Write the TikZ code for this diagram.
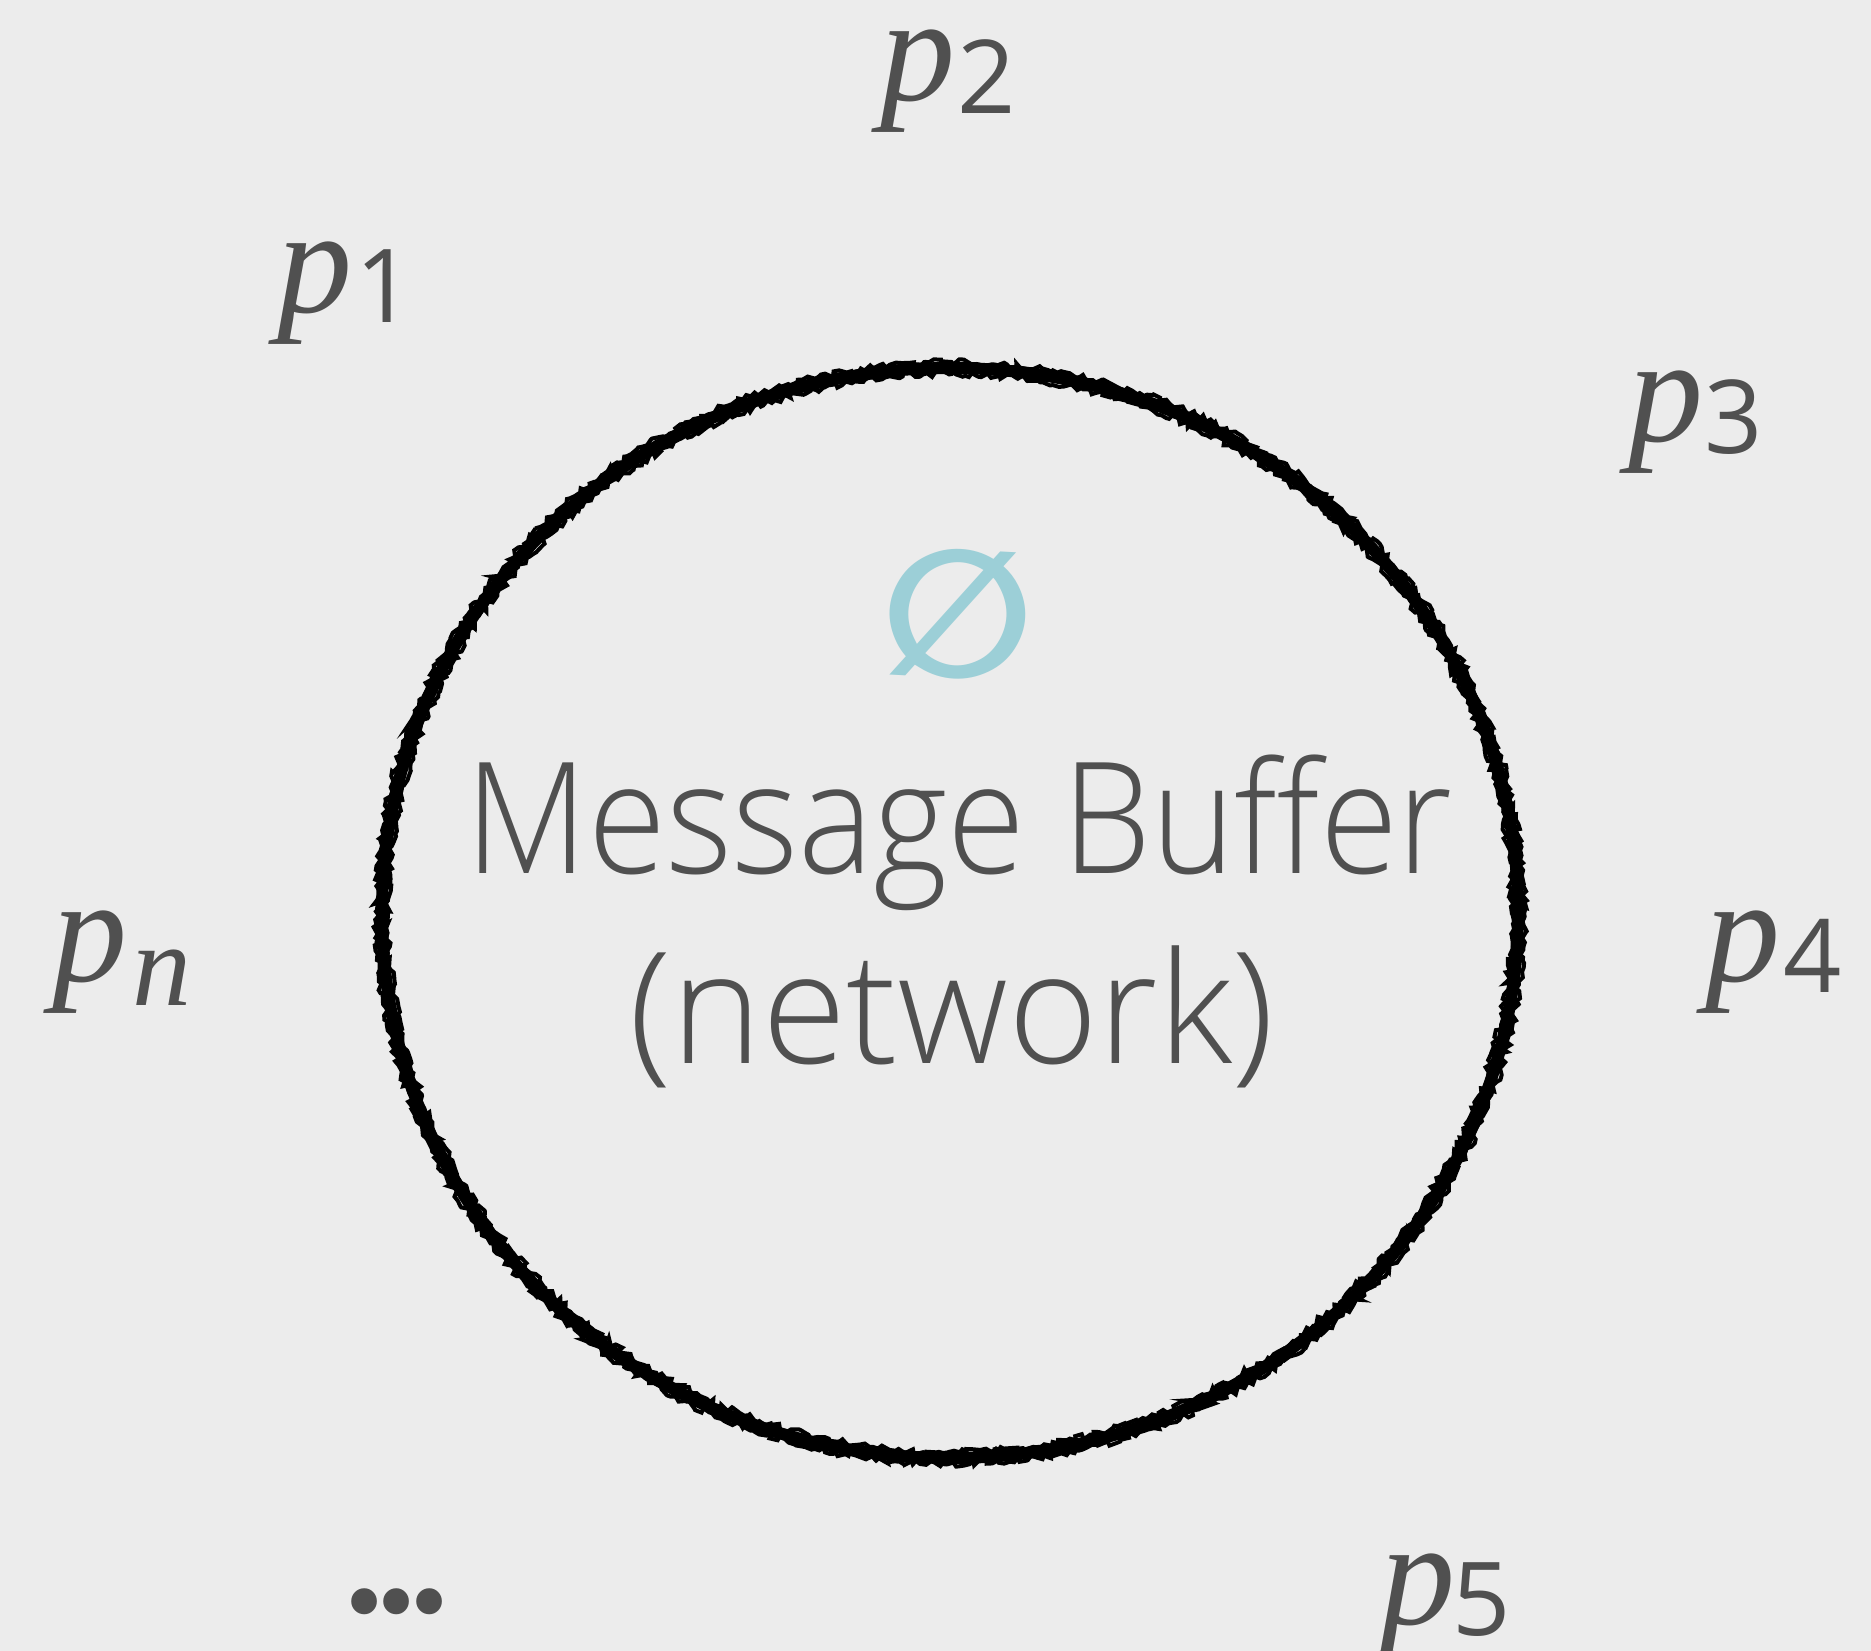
\documentclass[tikz,border=0pt]{standalone}
\usepackage{fontspec}
\usetikzlibrary{shapes.geometric,decorations.pathmorphing}
\IfFontExistsTF{Open Sans Light}{\newfontfamily\gill{Open Sans Light}}{\newfontfamily\gill{Open Sans}}
\newfontfamily\gillreg{Open Sans}
\newfontfamily\pserif{Liberation Serif}
\newfontfamily\dejavu{DejaVu Sans}
\newfontfamily\dotfont{Poppins}
\definecolor{bgc}{HTML}{ECECEC}
\definecolor{txt}{HTML}{505050}
\definecolor{emptyc}{HTML}{9CCFD7}
\newcommand{\pfont}{\pserif\itshape\fontsize{150}{160}\selectfont}
\newcommand{\digfont}{\gillreg\fontsize{102}{110}\selectfont}
\newcommand{\nfont}{\pserif\itshape\fontsize{118}{125}\selectfont}
\newcommand{\plab}[3]{{\pfont p}\kern#2pt\raisebox{-#3pt}{#1}}
\tikzset{
  lab/.style={inner sep=0pt, outer sep=0pt, text=txt, anchor=base west},
  bigtext/.style={inner sep=0pt, outer sep=0pt, text=txt, anchor=base,
    font=\gill\fontsize{155}{160}\selectfont},
  roughstroke/.style={draw=black, line width=4pt, decorate,
    decoration={random steps, segment length=4pt, amplitude=3pt}}
}
\begin{document}
\begin{tikzpicture}[x=1pt,y=-1pt]
\pgfmathsetseed{7}
\fill[bgc] (0,0) rectangle (1871,1651);
\useasboundingbox (0,0) rectangle (1871,1651);
% buffer circle
\node[ellipse, inner sep=0pt, minimum width=1136pt, minimum height=1090pt,
  draw=black, line width=12pt] (buf) at (950,913) {};
\draw[roughstroke] (buf.center) ellipse [x radius=574, y radius=551];
\draw[roughstroke] (buf.center) ellipse [x radius=562, y radius=539];
\draw[roughstroke, line width=3pt] (buf.center) ellipse [x radius=568, y radius=545];
% empty set
\node[inner sep=0pt, text=emptyc, rotate=-3, font=\dejavu\bfseries\fontsize{178}{178}\selectfont] (empty) at (958,614) {∅};
% texts
\node[bigtext] (mb) at (959.5,873) {\scalebox{0.915}[1]{Message Buffer}};
\node[bigtext] (nw) at (952,1063) {\scalebox{0.99}[1]{(network)}};
% process labels
\node[lab] (p2) at (880,101) {\plab{\digfont 2}{2}{13}};
\node[lab] (p1) at (277,312) {\plab{\digfont 1}{3}{10}};
\node[lab] (p3) at (1628,441) {\plab{\digfont 3}{1}{12}};
\node[lab] (p4) at (1705,981) {\plab{\digfont 4}{3}{11}};
\node[lab] (p5) at (1380,1624) {\plab{\digfont 5}{-3}{11}};
\node[lab] (pn) at (52,981) {\plab{\nfont n}{5}{24}};
\node[inner sep=0pt, text=txt, anchor=base, font=\dotfont\fontsize{210}{210}\selectfont] (dots) at (397,1613) {.\kern-12pt.\kern-12pt.};
\end{tikzpicture}
\end{document}
